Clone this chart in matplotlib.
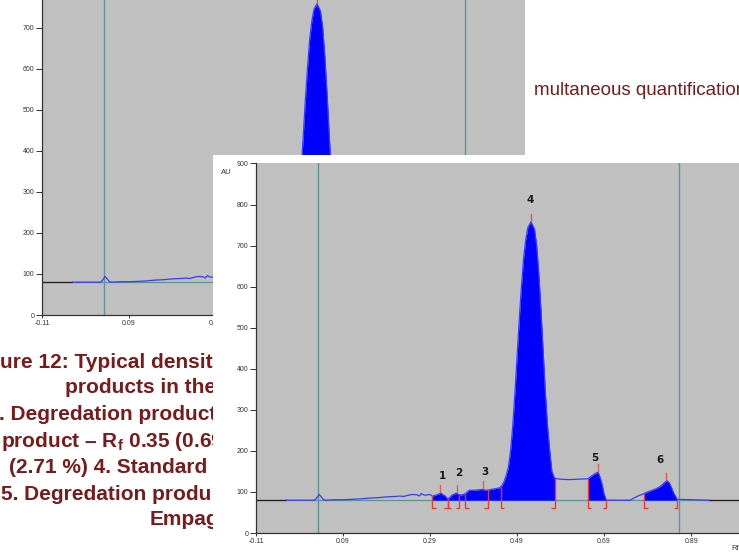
import numpy as np
import matplotlib
matplotlib.use("Agg")
import matplotlib.pyplot as plt
from matplotlib.patches import Rectangle

W, H = 739, 552

# ---- chromatogram data (Rf, AU) ----
rf = [-0.11, -0.04, 0.025, 0.030, 0.035, 0.040, 0.045, 0.05, 0.07, 0.09, 0.11, 0.13,
      0.15, 0.17, 0.19, 0.21, 0.22, 0.23, 0.24, 0.25, 0.26, 0.265, 0.27, 0.275, 0.28,
      0.29, 0.295, 0.30, 0.31, 0.315, 0.32, 0.325, 0.331, 0.34, 0.35, 0.357, 0.365,
      0.371, 0.38, 0.39, 0.40, 0.41, 0.42, 0.43, 0.44, 0.45, 0.455, 0.46, 0.465, 0.47,
      0.475, 0.48, 0.485, 0.49, 0.495, 0.50, 0.505, 0.51, 0.515, 0.522, 0.53, 0.535,
      0.54, 0.545, 0.55, 0.555, 0.56, 0.565, 0.57, 0.575, 0.577, 0.59, 0.61, 0.63,
      0.653, 0.66, 0.67, 0.676, 0.68, 0.685, 0.69, 0.695, 0.72, 0.75, 0.76, 0.77,
      0.782, 0.79, 0.80, 0.81, 0.82, 0.83, 0.835, 0.84, 0.845, 0.85, 0.858, 0.93]
au = [80, 80, 80, 86, 94, 88, 81, 80, 81, 81, 82, 83,
      85, 86, 88, 89, 90, 89, 92, 94, 93, 90, 96, 93, 92,
      94, 90, 91, 95, 97, 93, 90, 82, 92, 97, 93, 93,
      96, 104, 104, 105, 106, 104, 106, 108, 110, 115, 125, 140, 160,
      200, 260, 340, 430, 520, 600, 670, 715, 745, 758, 740, 700,
      630, 540, 440, 340, 260, 200, 150, 136, 133, 131, 130, 131,
      132, 138, 145, 148, 138, 120, 95, 80, 80, 80, 86, 91,
      96, 100, 104, 108, 114, 124, 127, 122, 110, 97, 82, 80]

baseline_au = 80
fill_start = [0.295, 0.653, 0.782]
fill_end = [0.577, 0.695, 0.858]

peak_labels = ["1", "2", "3", "4", "5", "6"]
label_rf = [0.318, 0.357, 0.415, 0.520, 0.668, 0.819]
label_au = [139, 147, 149, 812, 182, 178]
apex_rf = [0.313, 0.352, 0.412, 0.522, 0.676, 0.833]
apex_au = [97, 97, 106, 758, 148, 127]

bracket_rf = [0.295, 0.331, 0.331, 0.357, 0.371, 0.423, 0.453, 0.577, 0.653, 0.695, 0.782, 0.858]
bracket_side = [1, -1, 1, -1, 1, -1, 1, -1, 1, -1, 1, -1]

track_lines_rf = [0.0325, 0.862]
xtick_vals = [-0.11, 0.09, 0.29, 0.49, 0.69, 0.89]
xtick_text = ["-0.11", "0.09", "0.29", "0.49", "0.69", "0.89"]
ytick_front = [0, 100, 200, 300, 400, 500, 600, 700, 800, 900]
ytick_back = [0, 100, 200, 300, 400, 500, 600, 700]

caption_lines = ["ure 12: Typical densit",
                 "products in the",
                 ". Degredation product",
                 "product \u2013 R$_\\mathbf{f}$ 0.35 (0.69",
                 "(2.71 %) 4. Standard E",
                 "5. Degredation produ",
                 "Empag"]
caption_x = [0.5, 65, -1, 1, 9, 1, 150]
caption_y = [368, 393, 420, 447, 473, 500, 525]
top_text = "multaneous quantification"

plt.rcParams["mathtext.fontset"] = "custom"
plt.rcParams["mathtext.bf"] = "Liberation Sans:bold"
plt.rcParams["mathtext.rm"] = "Liberation Sans"

GRAY = "#c0c0c0"
TEAL = "#5f9494"
RED = "#ea3a32"
BLUE_LINE = "#3a3aff"
BLUE_FILL = "#0000ff"
MAROON = "#7a1a1a"

fig = plt.figure(figsize=(W / 100, H / 100), dpi=100)
fig.patch.set_facecolor("white")


def px_axes(left, zero_y, width, height_px):
    return [left / W, (H - zero_y) / H, width / W, height_px / H]


def draw_chart(ax, yticks, show_labels=True):
    x = np.array(rf)
    y = np.array(au)
    ax.set_facecolor(GRAY)
    ax.set_xlim(-0.11, 1.0)
    ax.set_ylim(0, 900)
    for v in track_lines_rf:
        ax.axvline(v, color=TEAL, lw=1.0, zorder=1)
    ax.axhline(baseline_au, color=TEAL, lw=0.9, zorder=1)
    ax.plot([-0.11, x[1]], [baseline_au, baseline_au], color="#222222", lw=0.9, zorder=2)
    ax.plot([x[-1], 1.0], [baseline_au, baseline_au], color="#222222", lw=0.9, zorder=2)
    for a, b in zip(fill_start, fill_end):
        m = (x >= a - 1e-9) & (x <= b + 1e-9)
        ax.fill_between(x[m], baseline_au, y[m], color=BLUE_FILL, lw=0, zorder=3)
    ax.plot(x[1:], y[1:], color=BLUE_LINE, lw=0.9, zorder=4)
    for r, s in zip(bracket_rf, bracket_side):
        top = np.interp(r, x, y)
        ax.plot([r, r, r + s * 0.008], [top, 61, 61], color=RED, lw=1.0, zorder=5,
                solid_capstyle="butt")
    for r, a in zip(apex_rf, apex_au):
        ax.plot([r, r], [a + 2, a + 20], color=RED, lw=1.0, alpha=0.75, zorder=5)
    if show_labels:
        for t, r, a in zip(peak_labels, label_rf, label_au):
            ax.text(r, a, t, ha="center", va="center", fontsize=7.5, fontweight="bold",
                    color="#1a1a1a", family="DejaVu Sans", zorder=6)
    for s in ["top", "right"]:
        ax.spines[s].set_visible(False)
    for s in ["left", "bottom"]:
        ax.spines[s].set_color("#333333")
        ax.spines[s].set_linewidth(0.9)
    ax.set_xticks(xtick_vals)
    ax.set_xticklabels(xtick_text)
    ax.set_yticks(yticks)
    ax.tick_params(axis="y", labelsize=5, length=4.5, width=0.7, pad=1.0, colors="#333333")
    ax.tick_params(axis="x", labelsize=5, length=2.5, width=0.7, pad=0.8, colors="#333333")
    for lab in ax.get_xticklabels() + ax.get_yticklabels():
        lab.set_family("Liberation Sans")


plot_h = 369.5
plot_w = 483
ax_back = fig.add_axes(px_axes(42, 315, plot_w, plot_h))
ax_back.set_zorder(1)
draw_chart(ax_back, ytick_back, show_labels=False)

# caption text (partly hidden behind the front panel)
for t, cx, cy in zip(caption_lines, caption_x, caption_y):
    fig.text(cx / W, 1 - cy / H, t, ha="left", va="baseline", fontsize=15,
             fontweight="bold", color=MAROON, family="Liberation Sans", zorder=1.5)

fig.text(534 / W, 1 - 95 / H, top_text, ha="left", va="baseline", fontsize=13.5,
         color=MAROON, family="Liberation Sans", zorder=1.5)

# white panel of the front screenshot
rect = Rectangle((213 / W, 0), 1 - 213 / W, 1 - 155 / H, transform=fig.transFigure,
                 facecolor="white", edgecolor="none", zorder=2)
fig.patches.append(rect)

ax_front = fig.add_axes(px_axes(256, 533, plot_w, plot_h))
ax_front.set_zorder(3)
draw_chart(ax_front, ytick_front, show_labels=True)

fig.text(221 / W, 1 - 172 / H, "AU", ha="left", va="center", fontsize=5.5,
         color="#333333", family="Liberation Sans", zorder=4)
fig.text(731 / W, 1 - 548 / H, "Rf", ha="left", va="center", fontsize=5.5,
         color="#333333", family="Liberation Sans", zorder=4)

fig.savefig("out.png", dpi=100)
